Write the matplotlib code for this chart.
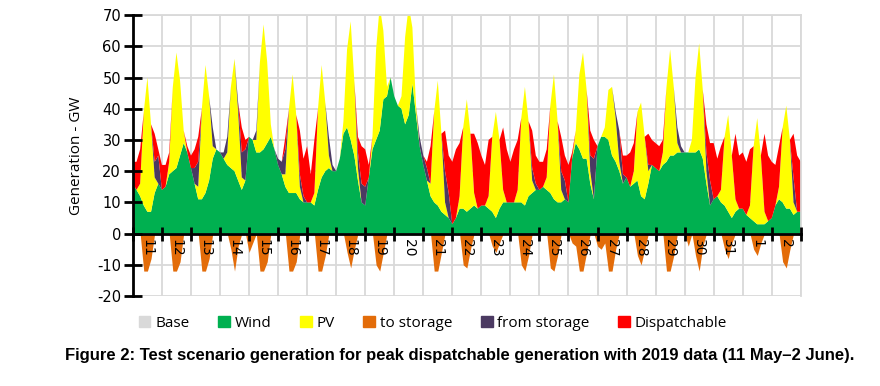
import numpy as np
import matplotlib
matplotlib.use('Agg')
import matplotlib.pyplot as plt
from matplotlib.patches import Patch

plt.rcParams['axes.unicode_minus'] = False

# 3-hourly readings (0, 3, 6, ... 21 h) for each day 11 May .. 2 June, last value closes 3 June 0h
day_labels = ['11', '12', '13', '14', '15', '16', '17', '18', '19', '20', '21', '22',
              '23', '24', '25', '26', '27', '28', '29', '30', '31', '1', '2']

wind = [16, 14, 12, 9, 7, 7, 13, 16,
        14, 15, 19, 20, 21, 25, 29, 26,
        21, 16, 11, 11, 13, 17, 24, 27,
        26, 24, 22, 21, 20, 17, 14, 17,
        31, 30, 26, 26, 27, 29, 31, 27,
        22, 19, 15, 13, 13, 13, 11, 10,
        10, 10, 9, 14, 18, 20, 21, 20,
        20, 24, 32, 34, 30, 25, 17, 10,
        9, 18, 27, 30, 33, 43, 44, 50,
        44, 41, 40, 35, 38, 48, 38, 28,
        22, 17, 12, 10, 9, 7, 6, 5,
        3, 5, 8, 8, 7, 8, 9, 8,
        9, 9, 8, 7, 5, 8, 10, 10,
        10, 10, 10, 10, 9, 12, 13, 14,
        14, 15, 14, 13, 11, 10, 10, 11,
        10, 24, 29, 27, 24, 24, 16, 11,
        28, 31, 31, 30, 25, 23, 20, 16,
        18, 15, 16, 17, 12, 11, 16, 22,
        21, 20, 22, 23, 25, 25, 26, 26,
        26, 26, 26, 26, 27, 24, 16, 9,
        11, 12, 10, 9, 7, 5, 7, 8,
        8, 6, 5, 4, 3, 3, 3, 4,
        5, 9, 11, 10, 8, 8, 6, 7,
        7]

pv = [0, 0, 4, 30, 43, 28, 5, 0,
      0, 0, 4, 27, 37, 24, 4, 0,
      0, 0, 4, 29, 41, 27, 4, 0,
      0, 0, 4, 26, 36, 22, 4, 0,
      0, 0, 4, 29, 40, 26, 4, 0,
      0, 0, 4, 27, 38, 25, 4, 0,
      0, 0, 4, 26, 36, 22, 4, 0,
      0, 0, 4, 25, 38, 24, 4, 0,
      0, 0, 4, 29, 40, 22, 3, 0,
      0, 0, 4, 28, 35, 18, 3, 0,
      0, 0, 4, 29, 40, 25, 4, 0,
      0, 0, 4, 26, 36, 24, 4, 0,
      0, 0, 4, 24, 34, 22, 4, 0,
      0, 0, 4, 27, 38, 24, 4, 0,
      0, 0, 4, 28, 40, 26, 4, 0,
      0, 0, 4, 24, 34, 22, 4, 0,
      0, 0, 3, 16, 22, 14, 3, 0,
      0, 0, 4, 22, 30, 20, 4, 0,
      0, 0, 4, 24, 34, 22, 3, 0,
      0, 0, 4, 24, 34, 22, 4, 0,
      0, 0, 4, 22, 31, 20, 4, 0,
      0, 0, 4, 24, 34, 22, 4, 0,
      0, 0, 4, 24, 33, 22, 4, 0,
      0]

from_storage = [0, 0, 0, 0, 0, 0, 5, 9,
                0, 0, 0, 0, 0, 0, 0, 0,
                0, 5, 8, 0, 0, 0, 6, 0,
                0, 2, 5, 0, 0, 3, 8, 10,
                0, 0, 3, 0, 0, 0, 0, 0,
                2, 4, 8, 0, 0, 0, 4, 2,
                0, 0, 0, 0, 0, 0, 6, 2,
                0, 0, 0, 0, 0, 0, 5, 6,
                6, 0, 0, 0, 0, 0, 0, 0,
                0, 0, 0, 0, 0, 0, 0, 3,
                3, 4, 0, 0, 0, 0, 10, 8,
                0, 0, 0, 0, 0, 0, 0, 0,
                0, 0, 0, 0, 0, 0, 0, 0,
                0, 0, 0, 0, 0, 0, 4, 2,
                0, 0, 0, 0, 0, 0, 6, 6,
                0, 0, 0, 0, 0, 0, 5, 13,
                0, 0, 0, 0, 0, 2, 10, 3,
                0, 0, 0, 0, 0, 0, 2, 0,
                0, 0, 0, 0, 0, 0, 5, 2,
                0, 0, 0, 0, 0, 0, 6, 8,
                0, 0, 0, 0, 0, 0, 0, 0,
                0, 0, 0, 0, 0, 0, 0, 0,
                0, 0, 0, 0, 0, 0, 8, 0,
                0]

dispatchable = [7, 9, 11, 0, 0, 0, 9, 2,
                8, 7, 3, 0, 0, 0, 0, 2,
                4, 6, 8, 0, 0, 0, 0, 0,
                0, 0, 0, 0, 0, 0, 8, 3,
                0, 0, 0, 0, 0, 0, 0, 0,
                0, 0, 4, 0, 0, 0, 14, 12,
                18, 9, 17, 0, 0, 0, 0, 0,
                0, 0, 0, 0, 0, 0, 5, 12,
                12, 4, 0, 0, 0, 0, 0, 0,
                0, 0, 0, 0, 0, 0, 0, 0,
                0, 2, 12, 0, 0, 0, 13, 12,
                20, 22, 17, 0, 0, 0, 19, 21,
                16, 13, 18, 0, 0, 0, 20, 17,
                13, 17, 16, 0, 0, 0, 12, 9,
                9, 8, 9, 0, 0, 0, 11, 8,
                12, 2, 0, 0, 0, 0, 8, 6,
                0, 0, 0, 0, 0, 0, 0, 6,
                7, 11, 9, 0, 0, 0, 10, 8,
                8, 8, 4, 0, 0, 0, 0, 0,
                0, 0, 0, 0, 0, 0, 9, 12,
                18, 12, 14, 0, 0, 0, 21, 17,
                18, 17, 18, 0, 0, 0, 25, 21,
                18, 13, 13, 0, 0, 0, 14, 18,
                16]

to_storage = [0, 0, 0, -12, -12, -8, 0, 0,
              0, 0, 0, -12, -12, -9, 0, 0,
              0, 0, 0, -12, -12, -8, 0, 0,
              0, 0, 0, -5, -12, -4, 0, 0,
              -6, -3, 0, -12, -12, -9, 0, 0,
              0, 0, 0, -12, -12, -9, 0, 0,
              0, 0, 0, -12, -12, -7, 0, 0,
              0, 0, 0, -6, -11, -5, 0, 0,
              0, 0, 0, -10, -12, -6, 0, 0,
              0, 0, 0, 0, 0, 0, 0, 0,
              0, 0, 0, -12, -12, -6, 0, 0,
              0, 0, 0, -10, -11, -5, 0, 0,
              0, 0, 0, -4, -6, -3, 0, 0,
              0, 0, 0, -10, -12, -7, 0, 0,
              0, 0, 0, -11, -12, -7, 0, 0,
              0, -3, -4, -12, -12, -6, 0, 0,
              -4, -5, -3, -12, -12, -5, 0, 0,
              0, 0, 0, -7, -10, -5, 0, 0,
              0, 0, 0, -12, -12, -7, 0, 0,
              0, -4, 0, -7, -12, -4, 0, 0,
              0, 0, 0, -5, -8, -3, 0, 0,
              0, 0, 0, -5, -7, -3, 0, 0,
              0, 0, 0, -9, -11, -5, 0, 0,
              0]

base = [0] * len(wind)

c_base = '#D9D9D9'
c_wind = '#00B050'
c_pv = '#FFFF00'
c_to = '#E36C09'
c_from = '#4B3A62'
c_disp = '#FF0000'
c_grid = '#D9D9D9'

t = np.arange(len(wind)) * 3 / 24.0

fig = plt.figure(figsize=(8.8, 3.86), dpi=100)
ax = fig.add_axes([0.151, 0.233, 0.759, 0.728])

# grid drawn by hand so that tick labels can sit above the areas
for yv in range(-20, 71, 10):
    ax.axhline(yv, color=c_grid, linewidth=1.3, zorder=0.5)
for xv in range(0, len(day_labels) + 1):
    ax.axvline(xv, color=c_grid, linewidth=1.3, zorder=0.5)

ax.stackplot(t, base, wind, pv, from_storage, dispatchable,
             colors=[c_base, c_wind, c_pv, c_from, c_disp], linewidth=0, zorder=2)
ax.fill_between(t, 0, to_storage, color=c_to, linewidth=0, zorder=2)

ax.set_xlim(0, len(day_labels))
ax.set_ylim(-20, 70)
ax.set_yticks(range(-20, 71, 10))
ax.set_xticks(range(0, len(day_labels) + 1))
ax.set_xticks(np.arange(len(day_labels)) + 0.5, minor=True)
ax.set_xticklabels([])
ax.set_xticklabels(day_labels, minor=True, fontsize=9, family='DejaVu Sans')
ax.tick_params(axis='x', which='major', direction='inout', length=10, width=2, color='black')
ax.tick_params(axis='x', which='minor', length=0, pad=4, labelrotation=270)
ax.tick_params(axis='y', direction='inout', length=13, width=2, labelsize=10.5, pad=2)
ax.xaxis.set_zorder(4)
ax.yaxis.set_zorder(4)

ax.spines['bottom'].set_position(('data', 0))
ax.spines['bottom'].set_linewidth(2)
ax.spines['bottom'].set_zorder(5)
ax.spines['left'].set_linewidth(2)
ax.spines['left'].set_zorder(5)
for s in ['top', 'right']:
    ax.spines[s].set_color(c_grid)
    ax.spines[s].set_linewidth(1.3)

ax.set_ylabel('Generation - GW', fontsize=11, family='Open Sans')
ax.yaxis.set_label_coords(-0.073, 0.5)

handles = [Patch(color=c_base, label='Base'), Patch(color=c_wind, label='Wind'),
           Patch(color=c_pv, label='PV'), Patch(color=c_to, label='to storage'),
           Patch(color=c_from, label='from storage'), Patch(color=c_disp, label='Dispatchable')]
fig.legend(handles=handles, loc='center', bbox_to_anchor=(0.492, 0.163), ncol=6,
           frameon=False, handlelength=0.75, handleheight=0.75, handletextpad=0.3,
           columnspacing=1.9, prop={'family': 'Open Sans', 'size': 11})

fig.text(0.522, 0.078, 'Figure 2: Test scenario generation for peak dispatchable generation '
         'with 2019 data (11 May\u20132 June).', ha='center', va='center',
         fontsize=12, weight='bold', family='Liberation Sans')

fig.savefig('out.png', dpi=100)
